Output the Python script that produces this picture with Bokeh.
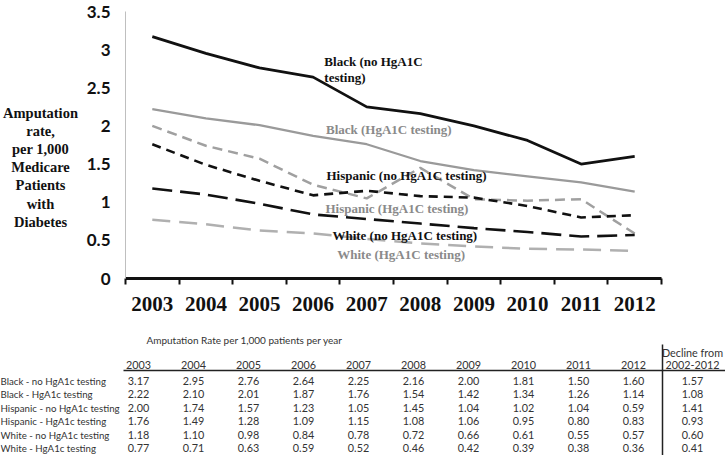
from bokeh.plotting import figure
from bokeh.models import Range1d, FixedTicker, CustomJSTickFormatter, Label, ColumnDataSource
from bokeh.layouts import column, row
from bokeh.embed import file_html
from bokeh.resources import INLINE
from bokeh.core.properties import value

# ---------------- data ----------------
years = [2003, 2004, 2005, 2006, 2007, 2008, 2009, 2010, 2011, 2012]
black_no = [3.17, 2.95, 2.76, 2.64, 2.25, 2.16, 2.00, 1.81, 1.50, 1.60]
black_yes = [2.22, 2.10, 2.01, 1.87, 1.76, 1.54, 1.42, 1.34, 1.26, 1.14]
hisp_no = [2.00, 1.74, 1.57, 1.23, 1.05, 1.45, 1.04, 1.02, 1.04, 0.59]
hisp_yes = [1.76, 1.49, 1.28, 1.09, 1.15, 1.08, 1.06, 0.95, 0.80, 0.83]
white_no = [1.18, 1.10, 0.98, 0.84, 0.78, 0.72, 0.66, 0.61, 0.55, 0.57]
white_yes = [0.77, 0.71, 0.63, 0.59, 0.52, 0.46, 0.42, 0.39, 0.38, 0.36]
decline = [1.57, 1.08, 1.41, 0.93, 0.60, 0.41]
row_labels = ["Black - no HgA1c testing", "Black - HgA1c testing",
              "Hispanic - no HgA1c testing", "Hispanic - HgA1c testing",
              "White - no HgA1c testing", "White - HgA1c testing"]
y_ticks = [0, 0.5, 1, 1.5, 2, 2.5, 3, 3.5]
y_title = ["Amputation", "rate,", "per 1,000", "Medicare", "Patients", "with", "Diabetes"]
table_title = "Amputation Rate per 1,000 patients per year"
decline_header = ["Decline from", "2002-2012"]

SERIF = "Liberation Serif"
SANS = "Lato"
W = 725
H = 455
TOP_H = 319
TITLE_W = 82

# ---------------- y-axis title panel ----------------
tf = figure(width=TITLE_W, height=TOP_H, output_backend="svg", toolbar_location=None,
            x_range=Range1d(0, TITLE_W), y_range=Range1d(TOP_H, 0),
            x_axis_location=None, y_axis_location=None, min_border=0)
tf.frame_align = False
tf.outline_line_color = None
tf.grid.visible = False
tf.text(x=[40] * len(y_title), y=[112 + 18.2 * i for i in range(len(y_title))], text=y_title,
        text_font=value(SERIF), text_font_style="bold", text_font_size="14.5px",
        text_color="#111111", text_align="center", text_baseline="middle")

# ---------------- chart ----------------
p = figure(width=W - TITLE_W, height=TOP_H, output_backend="svg", toolbar_location=None,
           x_range=Range1d(2002.5, 2012.5), y_range=Range1d(0, 3.5),
           min_border_left=125 - TITLE_W, min_border_right=W - 661,
           min_border_top=11, min_border_bottom=TOP_H - 278)
p.frame_align = False
p.outline_line_color = None
p.grid.visible = False

xa = p.xaxis[0]
xa.ticker = FixedTicker(ticks=years, minor_ticks=[y - 0.5 for y in years] + [years[-1] + 0.5])
xa.formatter = CustomJSTickFormatter(code="return tick.toFixed(0)")
xa.major_tick_out = 0
xa.major_tick_in = 0
xa.minor_tick_out = 6
xa.minor_tick_in = 0
xa.minor_tick_line_width = 2
xa.minor_tick_line_color = "#111111"
xa.axis_line_width = 3
xa.axis_line_color = "#111111"
xa.major_label_text_font = SERIF
xa.major_label_text_font_style = "bold"
xa.major_label_text_font_size = "21px"
xa.major_label_text_color = "#111111"
xa.major_label_standoff = 12

ya = p.yaxis[0]
ya.ticker = FixedTicker(ticks=y_ticks)
ya.formatter = CustomJSTickFormatter(code="return tick.toString()")
ya.major_tick_out = 0
ya.major_tick_in = 0
ya.minor_tick_out = 0
ya.minor_tick_in = 0
ya.axis_line_color = "#bfbfbf"
ya.axis_line_width = 1
ya.major_label_text_font = SANS
ya.major_label_text_font_style = "bold"
ya.major_label_text_font_size = "17px"
ya.major_label_text_color = "#111111"
ya.major_label_standoff = 15

p.line(years, black_no, line_color="#111111", line_width=2.8)
p.line(years, black_yes, line_color="#9a9a9a", line_width=2.3)
p.line(years, hisp_no, line_color="#a0a0a0", line_width=2.5, line_dash="10 6")
p.line(years, hisp_yes, line_color="#111111", line_width=2.6, line_dash="9 6")
p.line(years, white_no, line_color="#111111", line_width=2.6, line_dash="20 8")
p.line(years, white_yes, line_color="#b0b0b0", line_width=2.5, line_dash="18 9")

def add_label(x, y, text, color):
    p.add_layout(Label(x=x, y=y, text=text, text_color=color, text_font=SERIF,
                       text_font_style="bold", text_font_size="13px",
                       text_baseline="middle", text_align="left"))

add_label(2006.21, 2.85, "Black (no HgA1C", "#111111")
add_label(2006.21, 2.64, "testing)", "#111111")
add_label(2006.24, 1.95, "Black (HgA1C testing)", "#8a8a8a")
add_label(2006.25, 1.35, "Hispanic (no HgA1C testing)", "#111111")
add_label(2006.23, 0.92, "Hispanic (HgA1C testing)", "#8a8a8a")
add_label(2006.36, 0.57, "White (no HgA1C testing)", "#111111")
add_label(2006.45, 0.31, "White (HgA1C testing)", "#8a8a8a")

# ---------------- table ----------------
TH = H - TOP_H
t = figure(width=W, height=TH, output_backend="svg", toolbar_location=None,
           x_range=Range1d(0, W), y_range=Range1d(TH, 0),
           x_axis_location=None, y_axis_location=None, min_border=0)
t.frame_align = False
t.outline_line_color = None
t.grid.visible = False

col_x0, col_dx = 138, 55
dec_x = 692
row_y0, row_dy = 61, 13.5
hdr_y = 45
txt_color = "#333333"

series = [black_no, black_yes, hisp_no, hisp_yes, white_no, white_yes]
xs, ys, texts = [], [], []
for i, yr in enumerate(years):
    xs.append(col_x0 + col_dx * i); ys.append(hdr_y); texts.append(str(yr))
for r, s in enumerate(series):
    for i, v in enumerate(s):
        xs.append(col_x0 + col_dx * i); ys.append(row_y0 + row_dy * r); texts.append(f"{v:.2f}")
    xs.append(dec_x); ys.append(row_y0 + row_dy * r); texts.append(f"{decline[r]:.2f}")
xs += [dec_x, dec_x]; ys += [hdr_y - 12, hdr_y]; texts += decline_header

src = ColumnDataSource(dict(x=xs, y=ys, text=texts))
t.text(x="x", y="y", text="text", source=src, text_font=value(SANS), text_font_size="10.8px",
       text_color=txt_color, text_align="center", text_baseline="middle")

t.text(x=[244], y=[20], text=[table_title], text_font=value(SANS), text_font_size="10px",
       text_color=txt_color, text_align="center", text_baseline="middle")

lsrc = ColumnDataSource(dict(x=[0] * len(row_labels),
                             y=[row_y0 + row_dy * r for r in range(len(row_labels))],
                             text=row_labels))
t.text(x="x", y="y", text="text", source=lsrc, text_font=value(SANS), text_font_size="9.7px",
       text_color=txt_color, text_align="left", text_baseline="middle")

t.segment(x0=[123], y0=[51], x1=[W], y1=[51], line_color="#222222", line_width=1.5)
t.segment(x0=[662], y0=[25], x1=[662], y1=[TH], line_color="#222222", line_width=1.5)

layout = column(row(tf, p, spacing=0), t, spacing=0)
open("out.html", "w").write(file_html(layout, INLINE))
